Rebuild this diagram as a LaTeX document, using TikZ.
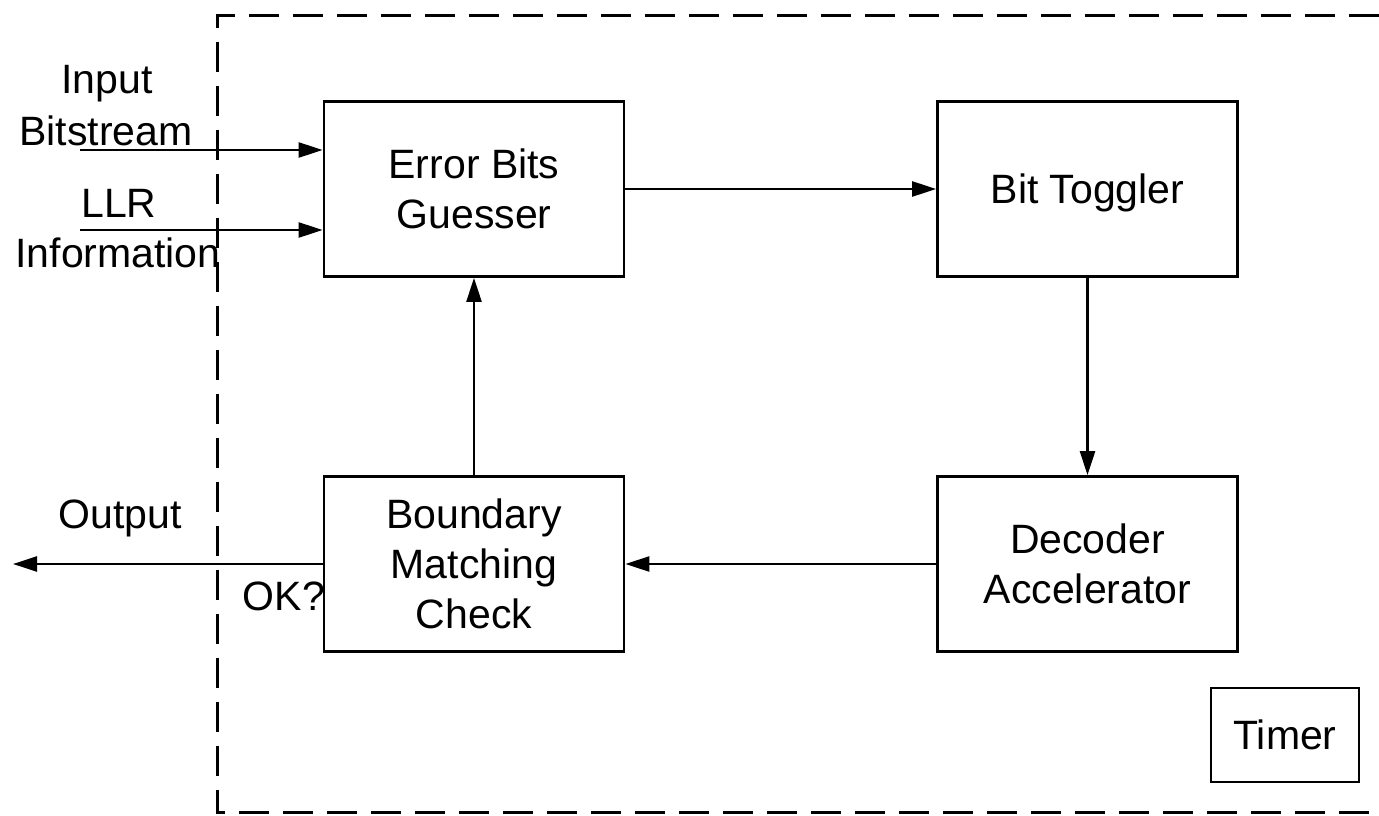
\documentclass[tikz,border=0pt]{standalone}
\usepackage{fontspec}
\setmainfont{Liberation Sans}
\usetikzlibrary{arrows.meta}
\begin{document}
\begin{tikzpicture}[x=1pt,y=-1pt,
  blk/.style={draw, line width=2.8pt, minimum width=300pt, minimum height=175pt, inner sep=0pt, align=center, text depth=0pt, font=\fontsize{41}{50}\selectfont},
  lbl/.style={anchor=base, inner sep=0pt, font=\fontsize{41}{50}\selectfont},
  conn/.style={line width=2.5pt, -{Triangle[length=24pt,width=15pt]}},
  frame/.style={line width=3pt, dash pattern=on 30pt off 14pt}]
\useasboundingbox (0,0) rectangle (1379,816);
\fill[white] (0,0) rectangle (1379,816);
% dashed enclosure
\draw[frame] (1379,16) -- (217,16) -- (217,812) -- (1379,812);
% blocks
\node[blk] (ebg) at (474,189) {Error Bits\\Guesser};
\node[blk] (bt) at (1087.5,189) {Bit Toggler};
\node[blk] (bmc) at (474,564) {Boundary\\Matching\\Check};
\node[blk] (dec) at (1087.5,564) {Decoder\\Accelerator};
\node[blk, line width=2.4pt, minimum width=148pt, minimum height=94pt] (tmr) at (1285,735) {Timer};
% labels
\node[lbl] (inA) at (107,93) {Input};
\node[lbl] (inB) at (106,145) {Bitstream};
\node[lbl] (llA) at (119,217) {LLR};
\node[lbl] (llB) at (118,267) {Information};
\node[lbl] (outl) at (120,528) {Output};
\node[lbl] (okl) at (284,610) {OK?};
% coordinates
\coordinate (inS) at (80,150);
\coordinate (llS) at (80,230);
\coordinate (outE) at (13,564);
% connectors
\draw[conn] (inS) -- (ebg.west |- inS);
\draw[conn] (llS) -- (ebg.west |- llS);
\draw[conn] (ebg) -- (bt);
\draw[conn] (bt) -- (dec);
\draw[conn] (dec) -- (bmc);
\draw[conn] (bmc) -- (ebg);
\draw[conn] (bmc.west) -- (outE);
\end{tikzpicture}
\end{document}
